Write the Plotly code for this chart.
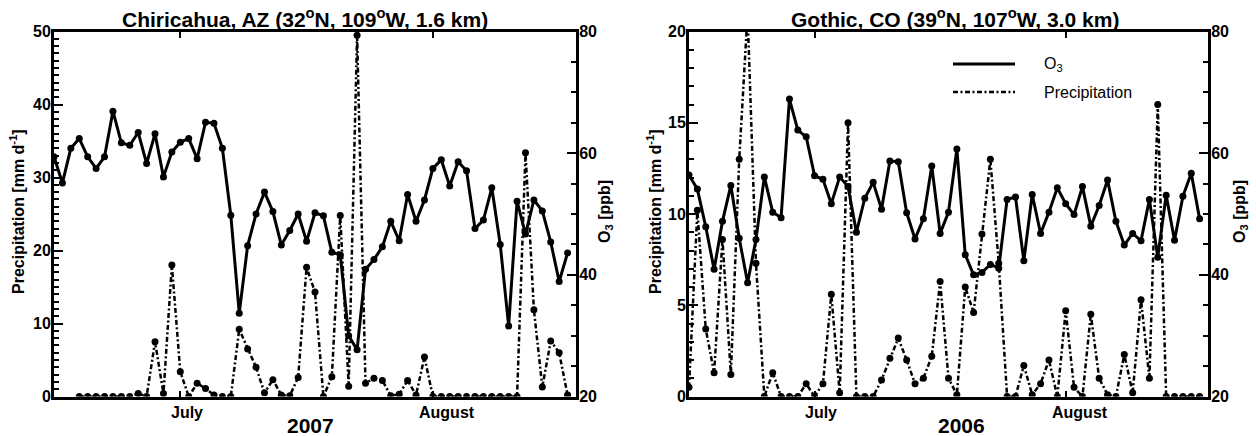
import numpy as np
import plotly.graph_objects as go

# ---------------------------------------------------------------
# Daily series, 62 days each (day index 0 = first day of record)
# ---------------------------------------------------------------
day = np.arange(62)

# Chiricahua, AZ  (2007)
o3_chiricahua = [59.4, 55.1, 60.8, 62.4, 59.4, 57.5, 59.4, 66.9, 61.7, 61.3,
                 63.4, 58.3, 63.2, 56.1, 60.2, 61.8, 62.4, 59.1, 65.1, 64.9,
                 60.8, 49.8, 33.7, 44.8, 50.0, 53.6, 50.4, 44.9, 47.3, 50.0,
                 45.5, 50.2, 49.7, 43.7, 43.3, 30.0, 27.7, 40.9, 42.5, 44.6,
                 48.8, 45.6, 53.2, 48.8, 52.3, 57.5, 58.9, 54.6, 58.6, 57.1,
                 47.6, 49.0, 54.3, 45.0, 31.6, 52.1, 46.7, 52.3, 50.5, 45.4,
                 38.9, 43.6]
precip_chiricahua = [None, None, None, 0, 0, 0, 0, 0, 0, 0,
                     0.4, 0, 7.5, 0.4, 18.0, 3.4, 0, 1.8, 1.1, 0.2,
                     0, 0, 9.2, 6.5, 4.0, 0.5, 2.3, 0.2, 0.1, 2.6,
                     17.7, 14.3, 0, 2.7, 24.8, 1.4, 49.5, 1.8, 2.5, 2.2,
                     0.1, 0.3, 2.2, 0.2, 5.4, 0, 0, 0, 0, 0,
                     0, 0, 0, 0, 0, 0, 33.4, 11.9, 1.3, 7.6,
                     6.0, 0.2]

# Gothic, CO  (2006)
o3_gothic = [56.4, 54.1, 47.9, 40.9, 48.8, 54.7, 46.0, 38.7, 45.8, 56.1,
             50.3, 49.4, 68.9, 63.8, 62.7, 56.3, 55.7, 51.7, 56.1, 54.5,
             47.0, 52.6, 55.2, 50.8, 58.7, 58.6, 50.2, 45.9, 49.2, 57.9,
             46.8, 50.3, 60.7, 43.3, 40.0, 40.4, 41.7, 41.1, 52.4, 52.8,
             42.3, 53.2, 46.8, 50.3, 54.3, 51.7, 49.9, 54.5, 48.0, 51.4,
             55.6, 48.8, 44.9, 46.8, 45.6, 52.4, 42.9, 53.1, 45.7, 52.9,
             56.7, 49.2]
precip_gothic = [0.5, 10.2, 3.7, 1.3, 8.6, 1.2, 13.0, 21.0, 7.3, 0,
                 1.3, 0, 0, 0, 0.7, 0, 0.7, 5.6, 0.2, 15.0,
                 0, 0, 0, 0.9, 2.1, 3.2, 2.0, 0.7, 1.0, 2.2,
                 6.3, 1.0, 0.1, 6.0, 4.6, 8.9, 13.0, 7.3, 0, 0,
                 1.7, 0.1, 0.7, 2.0, 0, 4.7, 0.5, 0, 4.5, 1.0,
                 0.1, 0, 2.3, 0.2, 5.3, 1.0, 16.0, 0, 0, 0,
                 0, 0]

# Month tick marks and month-name positions (in day index units)
month_ticks = [15, 45]
month_label_pos = [15.75, 46.7]
month_names = ["July", "August"]

panel_titles = ["Chiricahua, AZ (32<sup>o</sup>N, 109<sup>o</sup>W, 1.6 km)",
                "Gothic, CO (39<sup>o</sup>N, 107<sup>o</sup>W, 3.0 km)"]
years = ["2007", "2006"]

# ---------------------------------------------------------------
W, H = 1256, 436
FONT = "Liberation Sans, Arial, Helvetica, sans-serif"
DASHDOT = "5px,2.5px,2px,2.5px"


def px_x(v):
    return v / W


def px_y(v):
    return 1 - v / H


y_dom = [px_y(396.5), px_y(31.5)]
x_dom = [[px_x(54), px_x(576)], [px_x(689), px_x(1208)]]

fig = go.Figure()

panels = [
    dict(x="x", yp="y", yo="y2", o3=o3_chiricahua, pr=precip_chiricahua),
    dict(x="x2", yp="y3", yo="y4", o3=o3_gothic, pr=precip_gothic),
]
for p in panels:
    fig.add_trace(go.Scatter(
        x=day, y=p["pr"], xaxis=p["x"], yaxis=p["yp"], mode="lines+markers",
        line=dict(color="black", width=2.5, dash=DASHDOT),
        marker=dict(color="black", size=7), showlegend=False))
    fig.add_trace(go.Scatter(
        x=day, y=p["o3"], xaxis=p["x"], yaxis=p["yo"], mode="lines+markers",
        line=dict(color="black", width=3),
        marker=dict(color="black", size=7), showlegend=False))

tickfont = dict(family=FONT, size=16, color="black", weight="bold")

xcommon = dict(range=[0, 62], tickvals=month_ticks, ticks="inside", ticklen=6,
               tickwidth=2, tickcolor="black", showticklabels=False,
               showline=True, linewidth=3, linecolor="black", mirror="ticks",
               showgrid=False, zeroline=False, automargin=False)


def ycommon(rng, major, minor, side):
    return dict(range=rng, tickvals=major, ticks="inside", ticklen=9,
                tickwidth=2, tickcolor="black", ticklabelstandoff=-3,
                minor=dict(dtick=minor, tick0=rng[0], ticks="inside",
                           ticklen=5, tickwidth=1.5, tickcolor="black"),
                showline=True, linewidth=3, linecolor="black", side=side,
                showgrid=False, zeroline=False, tickfont=tickfont,
                domain=y_dom, automargin=False)


fig.update_layout(
    template="none",
    width=W, height=H, autosize=False,
    margin=dict(l=0, r=0, t=0, b=0, pad=0),
    paper_bgcolor="white", plot_bgcolor="white",
    font=dict(family=FONT, color="black"),
    xaxis=dict(domain=x_dom[0], anchor="y", **xcommon),
    xaxis2=dict(domain=x_dom[1], anchor="y3", **xcommon),
    yaxis=dict(anchor="x", **ycommon([0, 50], [0, 10, 20, 30, 40, 50], 1, "left")),
    yaxis2=dict(anchor="x", overlaying="y",
                **ycommon([20, 80], [20, 40, 60, 80], 5, "right")),
    yaxis3=dict(anchor="x2", **ycommon([0, 20], [0, 5, 10, 15, 20], 1, "left")),
    yaxis4=dict(anchor="x2", overlaying="y3",
                **ycommon([20, 80], [20, 40, 60, 80], 5, "right")),
)

ann = []
title_x = [305, 955]
year_x = [310, 961]
left_title_x = [17, 654]
right_title_x = [605, 1240]
for k, xa in enumerate(["x", "x2"]):
    ann.append(dict(text="<b>" + panel_titles[k] + "</b>", x=px_x(title_x[k]),
                    y=px_y(18), xref="paper", yref="paper", showarrow=False,
                    xanchor="center", yanchor="middle",
                    font=dict(family=FONT, size=21, color="black")))
    ann.append(dict(text="<b>" + years[k] + "</b>", x=px_x(year_x[k]),
                    y=px_y(425), xref="paper", yref="paper", showarrow=False,
                    xanchor="center", yanchor="middle",
                    font=dict(family=FONT, size=21, color="black")))
    for pos, name in zip(month_label_pos, month_names):
        ann.append(dict(text="<b>" + name + "</b>", x=pos, xref=xa,
                        y=px_y(412), yref="paper", showarrow=False,
                        xanchor="center", yanchor="middle",
                        font=dict(family=FONT, size=16, color="black")))
    ann.append(dict(text="<b>Precipitation [mm d<sup>-1</sup>]</b>",
                    x=px_x(left_title_x[k]), y=px_y(212), xref="paper",
                    yref="paper", showarrow=False, textangle=-90,
                    xanchor="center", yanchor="middle",
                    font=dict(family=FONT, size=16, color="black")))
    ann.append(dict(text="<b>O<sub>3</sub> [ppb]</b>",
                    x=px_x(right_title_x[k]), y=px_y(212), xref="paper",
                    yref="paper", showarrow=False, textangle=-90,
                    xanchor="center", yanchor="middle",
                    font=dict(family=FONT, size=16, color="black")))

# Legend (right panel)
legend_items = [("O<sub>3</sub>", "solid", 3, 64),
                ("Precipitation", DASHDOT, 2.5, 92)]
shapes = []
for label, dash, lw, ypx in legend_items:
    shapes.append(dict(type="line", xref="paper", yref="paper",
                       x0=px_x(953), x1=px_x(1015), y0=px_y(ypx), y1=px_y(ypx),
                       line=dict(color="black", width=lw, dash=dash)))
    ann.append(dict(text=label, x=px_x(1042), y=px_y(ypx), xref="paper",
                    yref="paper", showarrow=False, xanchor="left",
                    yanchor="middle",
                    font=dict(family=FONT, size=16, color="black")))

fig.update_layout(annotations=ann, shapes=shapes)
fig.write_html("out.html")
